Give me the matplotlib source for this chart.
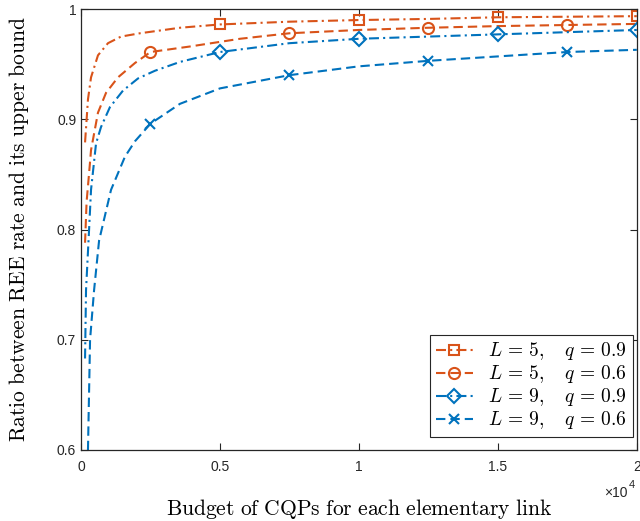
import matplotlib
matplotlib.use("Agg")
import matplotlib.pyplot as plt
from matplotlib.ticker import FuncFormatter

plt.rcParams["mathtext.fontset"] = "cm"
plt.rcParams["font.family"] = ["Liberation Sans", "DejaVu Sans"]

ORANGE = "#D95319"
BLUE = "#0072BD"
DASHED = (0, (4.5, 2.4))
DASHDOT = (0, (4.8, 2.0, 1.0, 2.0))

# L = 5, q = 0.9
x_l5_q09 = [145, 250, 360, 610, 970, 1440, 2120, 3560, 5000, 7500, 10000, 12500, 15000, 17500, 20000]
y_l5_q09 = [0.879, 0.918, 0.938, 0.958, 0.969, 0.975, 0.978, 0.983, 0.986, 0.9885, 0.990, 0.991, 0.9925, 0.993, 0.9935]
mk_l5_q09 = [5000, 10000, 15000, 20000]

# L = 5, q = 0.6
x_l5_q06 = [145, 200, 290, 360, 610, 900, 1330, 1940, 2500, 3920, 5720, 7500, 10000, 12500, 15000, 17500, 20000]
y_l5_q06 = [0.788, 0.825, 0.851, 0.872, 0.906, 0.924, 0.938, 0.951, 0.961, 0.966, 0.973, 0.978, 0.981, 0.983, 0.9845, 0.9855, 0.9865]
mk_l5_q06 = [2500, 7500, 12500, 17500]

# L = 9, q = 0.9
x_l9_q09 = [145, 180, 290, 360, 540, 720, 1040, 1510, 2050, 2660, 3560, 5000, 7500, 10000, 12500, 15000, 17500, 20000]
y_l9_q09 = [0.683, 0.745, 0.800, 0.836, 0.878, 0.893, 0.911, 0.926, 0.937, 0.944, 0.952, 0.961, 0.969, 0.973, 0.975, 0.977, 0.979, 0.981]
mk_l9_q09 = [5000, 10000, 15000, 20000]

# L = 9, q = 0.6
x_l9_q06 = [145, 250, 325, 470, 650, 1080, 1580, 1940, 2500, 3560, 5000, 7500, 10000, 12500, 15000, 17500, 20000]
y_l9_q06 = [0.45, 0.600, 0.700, 0.745, 0.790, 0.836, 0.866, 0.880, 0.896, 0.914, 0.928, 0.940, 0.948, 0.953, 0.957, 0.961, 0.963]
mk_l9_q06 = [2500, 7500, 12500, 17500]

series = [
    (x_l5_q09, y_l5_q09, mk_l5_q09, ORANGE, DASHDOT, "s", 7, r"$L\,=\,5,\;\;\;\, q\,=\,0.9$"),
    (x_l5_q06, y_l5_q06, mk_l5_q06, ORANGE, DASHED, "o", 8, r"$L\,=\,5,\;\;\;\, q\,=\,0.6$"),
    (x_l9_q09, y_l9_q09, mk_l9_q09, BLUE, DASHDOT, "D", 7, r"$L\,=\,9,\;\;\;\, q\,=\,0.9$"),
    (x_l9_q06, y_l9_q06, mk_l9_q06, BLUE, DASHED, "x", 7, r"$L\,=\,9,\;\;\;\, q\,=\,0.6$"),
]

fig = plt.figure(figsize=(6.4, 5.21), dpi=100)
ax = fig.add_axes([0.1266, 0.1363, 0.8684, 0.8464])

for xs, ys, marks, color, ls, marker, ms, label in series:
    idx = [xs.index(m) for m in marks]
    ax.plot(xs, ys, color=color, linestyle=ls, linewidth=1.5,
            marker=marker, markersize=ms, markerfacecolor="none",
            markeredgewidth=1.5, markevery=idx, label=label)

ax.set_xlim(0, 20000)
ax.set_ylim(0.6, 1.0)
ax.set_xticks([0, 5000, 10000, 15000, 20000])
ax.set_yticks([0.6, 0.7, 0.8, 0.9, 1.0])
ax.xaxis.set_major_formatter(FuncFormatter(lambda v, p: f"{v / 1e4:g}"))
ax.yaxis.set_major_formatter(FuncFormatter(lambda v, p: f"{v:g}"))
ax.tick_params(direction="in", top=True, right=True, length=5, width=0.8,
               labelsize=10, colors="#262626", labelcolor="#262626")
ax.tick_params(axis="x", pad=7)
for sp in ax.spines.values():
    sp.set_linewidth(0.9)
    sp.set_color("#262626")

# exponent label under the last x tick
ax.text(0.984, -0.097, "×10", transform=ax.transAxes, ha="right", va="center",
        fontsize=10, color="#262626")
ax.text(0.985, -0.079, "4", transform=ax.transAxes, ha="left", va="center",
        fontsize=8, color="#262626")

ax.set_xlabel(r"$\mathrm{Budget\ of\ CQPs\ for\ each\ elementary\ link}$",
              fontsize=15.5, labelpad=17)
ax.set_ylabel(r"$\mathrm{Ratio\ between\ REE\ rate\ and\ its\ upper\ bound}$",
              fontsize=15.5, labelpad=19)

leg = ax.legend(loc="lower right", bbox_to_anchor=(0.993, 0.029),
                borderaxespad=0, fontsize=14, handlelength=1.9,
                handletextpad=0.8, labelspacing=0.05, borderpad=0.3,
                fancybox=False, framealpha=1, edgecolor="#262626")
leg.get_frame().set_linewidth(0.8)

fig.savefig("out.png", dpi=100)
